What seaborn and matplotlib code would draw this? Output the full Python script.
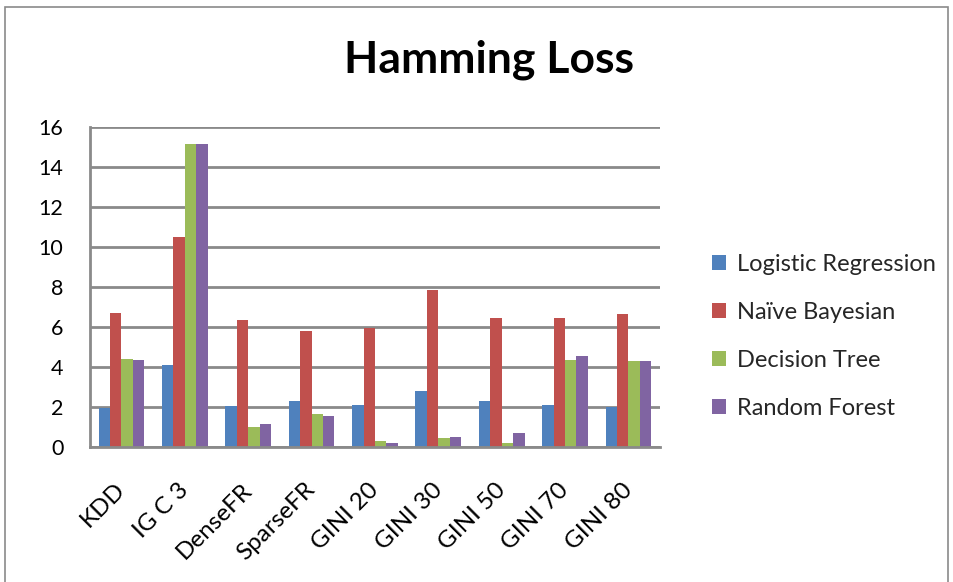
import matplotlib
matplotlib.use("Agg")
import matplotlib.pyplot as plt
import matplotlib.transforms as mtransforms
import seaborn as sns
import pandas as pd
from matplotlib.patches import Rectangle

categories = ["KDD", "IG C 3", "DenseFR", "SparseFR", "GINI 20", "GINI 30", "GINI 50", "GINI 70", "GINI 80"]
series_names = ["Logistic Regression", "Naïve Bayesian", "Decision Tree", "Random Forest"]
logistic_regression = [1.95, 4.1, 2.05, 2.3, 2.1, 2.8, 2.3, 2.1, 2.0]
naive_bayesian = [6.7, 10.5, 6.35, 5.8, 5.95, 7.85, 6.45, 6.45, 6.65]
decision_tree = [4.4, 15.15, 1.0, 1.65, 0.3, 0.45, 0.2, 4.35, 4.3]
random_forest = [4.35, 15.15, 1.15, 1.55, 0.2, 0.5, 0.7, 4.55, 4.3]
y_ticks = [0, 2, 4, 6, 8, 10, 12, 14, 16]
colors = ["#4F81BD", "#C0504D", "#9BBB59", "#8064A2"]

rows = []
for name, vals in zip(series_names, [logistic_regression, naive_bayesian, decision_tree, random_forest]):
    for c, v in zip(categories, vals):
        rows.append({"category": c, "model": name, "value": v})
df = pd.DataFrame(rows)

sns.set_theme(style="white")
plt.rcParams["font.family"] = ["Lato", "DejaVu Sans"]

fig = plt.figure(figsize=(9.54, 5.82), dpi=100)
ax = fig.add_axes([0.094, 0.232, 0.598, 0.55])

sns.barplot(data=df, x="category", y="value", hue="model", order=categories,
            hue_order=series_names, palette=colors, saturation=1, width=0.72,
            edgecolor="none", ax=ax, legend=True)

ax.set_ylim(0, 16)
ax.set_yticks(y_ticks)
ax.set_yticklabels([str(t) for t in y_ticks], fontsize=15.5, color="black")
ax.set_xlim(-0.5, len(categories) - 0.5)
ax.yaxis.grid(True, color="#8a8a8a", linewidth=2)
ax.set_axisbelow(True)
for s in ["top", "right"]:
    ax.spines[s].set_visible(False)
ax.spines["left"].set_color("#8a8a8a")
ax.spines["left"].set_linewidth(2)
ax.spines["bottom"].set_color("#8a8a8a")
ax.spines["bottom"].set_linewidth(2)
ax.tick_params(axis="y", length=0, pad=19)
ax.tick_params(axis="x", length=0, pad=23)
ax.set_xlabel("")
ax.set_ylabel("")
ax.set_xticks(range(len(categories)))
ax.set_xticklabels(categories, rotation=45, ha="right", rotation_mode="anchor",
                   fontsize=17.5, color="black")
shift = mtransforms.ScaledTranslation(-7 / 100, 0, fig.dpi_scale_trans)
for lbl in ax.get_xticklabels():
    lbl.set_transform(lbl.get_transform() + shift)

leg = ax.legend(loc="center left", bbox_to_anchor=(1.054, 0.345), frameon=False,
                fontsize=17, handlelength=0.6, handleheight=0.6,
                labelspacing=1.15, handletextpad=0.45)

fig.text(0.513, 0.897, "Hamming Loss", ha="center", va="center",
         fontsize=32, fontweight="bold", color="black")

fig.patches.append(Rectangle((0.0055, -0.01), 0.988, 0.998, transform=fig.transFigure,
                             fill=False, edgecolor="#8a8a8a", linewidth=1.2))

fig.savefig("out.png", dpi=100)
